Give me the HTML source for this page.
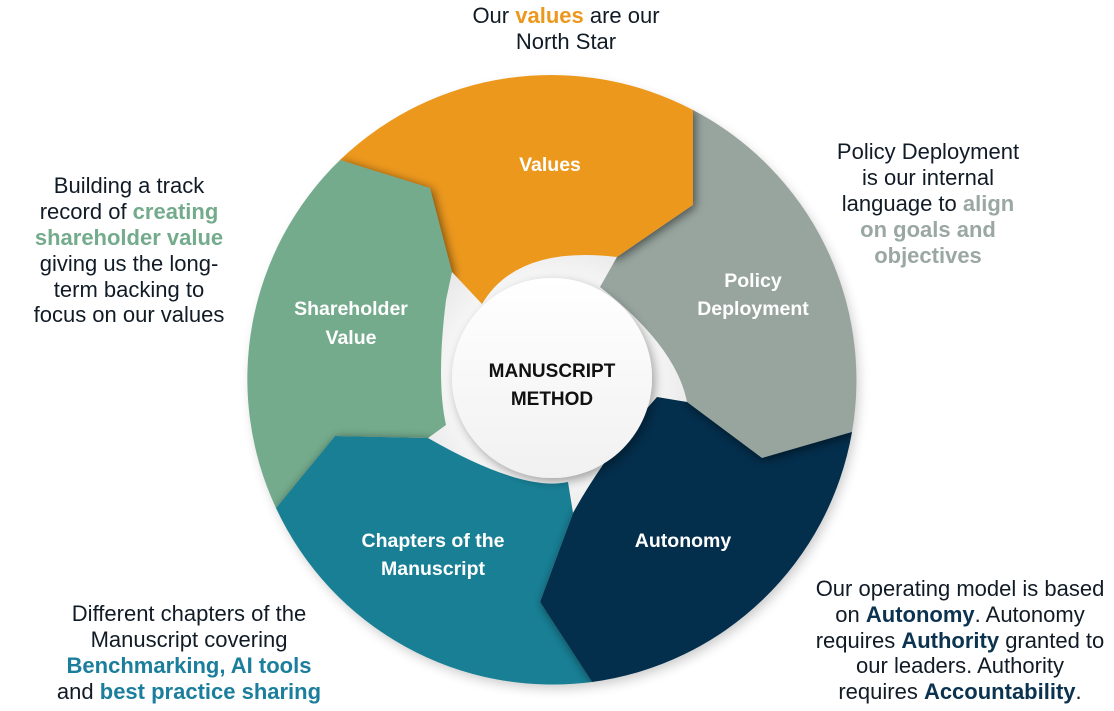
<!DOCTYPE html>
<html>
<head>
<meta charset="utf-8">
<style>
  html,body{margin:0;padding:0;background:#ffffff;}
  body{width:1114px;height:711px;overflow:hidden;}
  svg{display:block;}
  .t{font-family:"Liberation Sans",Arial,sans-serif;font-size:22px;fill:#111b26;}
  .b{font-weight:bold;}
  .lbl{font-family:"Liberation Sans",Arial,sans-serif;font-size:19.5px;font-weight:bold;fill:#ffffff;}
  .ctr{font-family:"Liberation Sans",Arial,sans-serif;font-size:19px;font-weight:bold;fill:#111111;}
</style>
</head>
<body>
<svg width="1114" height="711" viewBox="0 0 1114 711" xmlns="http://www.w3.org/2000/svg">
  <defs>
    <filter id="sh" x="-50%" y="-50%" width="200%" height="200%">
      <feGaussianBlur in="SourceAlpha" stdDeviation="5"/>
      <feOffset dx="2" dy="2"/>
      <feComponentTransfer><feFuncA type="linear" slope="0.55"/></feComponentTransfer>
    </filter>
    <filter id="blur6" x="-20%" y="-20%" width="140%" height="140%">
      <feGaussianBlur stdDeviation="6"/>
    </filter>
    <filter id="ds" x="-30%" y="-30%" width="160%" height="160%">
      <feGaussianBlur in="SourceAlpha" stdDeviation="5"/>
      <feOffset dx="3" dy="4"/>
      <feComponentTransfer><feFuncA type="linear" slope="0.35"/></feComponentTransfer>
      <feMerge><feMergeNode/><feMergeNode in="SourceGraphic"/></feMerge>
    </filter>
    <radialGradient id="gap" cx="552" cy="380" r="160" gradientUnits="userSpaceOnUse">
      <stop offset="0.62" stop-color="#f7f7f7"/>
      <stop offset="1" stop-color="#e3e3e3"/>
    </radialGradient>
    <linearGradient id="disc" x1="0" y1="0" x2="0" y2="1">
      <stop offset="0" stop-color="#ffffff"/>
      <stop offset="1" stop-color="#f1f1f1"/>
    </linearGradient>

    <path id="pOrange" d="M340,160 A305,305 0 0 1 693,110 L693,205 L617,257 Q517,245 482,304 L452,272 L430,188 Z"/>
    <path id="pGrey" d="M693,110 A305,305 0 0 1 852,432 L762,458 L687,402 Q676,346 600,287 L617,257 L693,205 Z"/>
    <path id="pNavy" d="M852,432 A305,305 0 0 1 592,682 L540,602 L573,513 Q605,455 657,397 L687,402 L762,458 Z"/>
    <path id="pTeal" d="M592,682 A305,305 0 0 1 276,508 L335,436 L428,438 Q522,492 568,482 L573,513 L540,602 Z"/>
    <path id="pGreen" d="M276,508 A305,305 0 0 1 340,160 L430,188 L452,272 L446,300 Q436,380 446,425 L428,438 L335,436 Z"/>

    <clipPath id="cOrange"><use href="#pOrange"/></clipPath>
    <clipPath id="cGrey"><use href="#pGrey"/></clipPath>
    <clipPath id="cNavy"><use href="#pNavy"/></clipPath>
    <clipPath id="cTeal"><use href="#pTeal"/></clipPath>
    <clipPath id="cGreen"><use href="#pGreen"/></clipPath>
  </defs>

  <!-- outer ring soft shadow -->
  <circle cx="555" cy="385" r="303" fill="#000" opacity="0.22" filter="url(#blur6)"/>
  <!-- inner gap background -->
  <circle cx="552" cy="380" r="160" fill="url(#gap)"/>

  <!-- segments -->
  <use href="#pOrange" fill="#ec981d"/>
  <use href="#pGrey" fill="#98a59f"/>
  <use href="#pNavy" fill="#032e4c"/>
  <use href="#pTeal" fill="#187f95"/>
  <use href="#pGreen" fill="#74ab8c"/>

  <!-- shadows cast onto the next segment -->
  <g clip-path="url(#cGrey)"><use href="#pOrange" filter="url(#sh)"/></g>
  <g clip-path="url(#cNavy)"><use href="#pGrey" filter="url(#sh)"/></g>
  <g clip-path="url(#cTeal)"><use href="#pNavy" filter="url(#sh)"/></g>
  <g clip-path="url(#cGreen)"><use href="#pTeal" filter="url(#sh)"/></g>
  <g clip-path="url(#cOrange)"><use href="#pGreen" filter="url(#sh)"/></g>

  <!-- center disc -->
  <circle cx="552" cy="378" r="100" fill="url(#disc)" filter="url(#ds)"/>
  <text class="ctr" x="552" y="377" text-anchor="middle">MANUSCRIPT</text>
  <text class="ctr" x="552" y="405" text-anchor="middle">METHOD</text>

  <!-- segment labels -->
  <text class="lbl" x="550" y="171" text-anchor="middle">Values</text>
  <text class="lbl" x="753" y="287" text-anchor="middle">Policy</text>
  <text class="lbl" x="753" y="315" text-anchor="middle">Deployment</text>
  <text class="lbl" x="351" y="315" text-anchor="middle">Shareholder</text>
  <text class="lbl" x="351" y="344" text-anchor="middle">Value</text>
  <text class="lbl" x="433" y="547" text-anchor="middle">Chapters of the</text>
  <text class="lbl" x="433" y="575" text-anchor="middle">Manuscript</text>
  <text class="lbl" x="683" y="547" text-anchor="middle">Autonomy</text>

  <!-- top text -->
  <text class="t" x="566" y="23" text-anchor="middle">Our <tspan class="b" fill="#ec981d">values</tspan> are our</text>
  <text class="t" x="566" y="49" text-anchor="middle">North Star</text>

  <!-- left text -->
  <text class="t" x="129" y="193" text-anchor="middle">Building a track</text>
  <text class="t" x="129" y="219" text-anchor="middle">record of <tspan class="b" fill="#74ab8c">creating</tspan></text>
  <text class="t b" x="129" y="245" text-anchor="middle" style="fill:#74ab8c">shareholder value</text>
  <text class="t" x="129" y="271" text-anchor="middle">giving us the long-</text>
  <text class="t" x="129" y="297" text-anchor="middle">term backing to</text>
  <text class="t" x="129" y="322" text-anchor="middle">focus on our values</text>

  <!-- right text -->
  <text class="t" x="928" y="159" text-anchor="middle">Policy Deployment</text>
  <text class="t" x="928" y="185" text-anchor="middle">is our internal</text>
  <text class="t" x="928" y="211" text-anchor="middle">language to <tspan class="b" fill="#9aa7a2">align</tspan></text>
  <text class="t b" x="928" y="237" text-anchor="middle" style="fill:#9aa7a2">on goals and</text>
  <text class="t b" x="928" y="263" text-anchor="middle" style="fill:#9aa7a2">objectives</text>

  <!-- bottom-left text -->
  <text class="t" x="189" y="621" text-anchor="middle">Different chapters of the</text>
  <text class="t" x="189" y="647" text-anchor="middle">Manuscript covering</text>
  <text class="t b" x="189" y="673" text-anchor="middle" style="fill:#1b7e9c">Benchmarking, AI tools</text>
  <text class="t" x="189" y="699" text-anchor="middle">and <tspan class="b" fill="#1b7e9c">best practice sharing</tspan></text>

  <!-- bottom-right text -->
  <text class="t" x="960" y="596" text-anchor="middle">Our operating model is based</text>
  <text class="t" x="960" y="622" text-anchor="middle">on <tspan class="b" fill="#0b3350">Autonomy</tspan>. Autonomy</text>
  <text class="t" x="960" y="648" text-anchor="middle">requires <tspan class="b" fill="#0b3350">Authority</tspan> granted to</text>
  <text class="t" x="960" y="673" text-anchor="middle">our leaders. Authority</text>
  <text class="t" x="960" y="699" text-anchor="middle">requires <tspan class="b" fill="#0b3350">Accountability</tspan>.</text>
</svg>
</body>
</html>
